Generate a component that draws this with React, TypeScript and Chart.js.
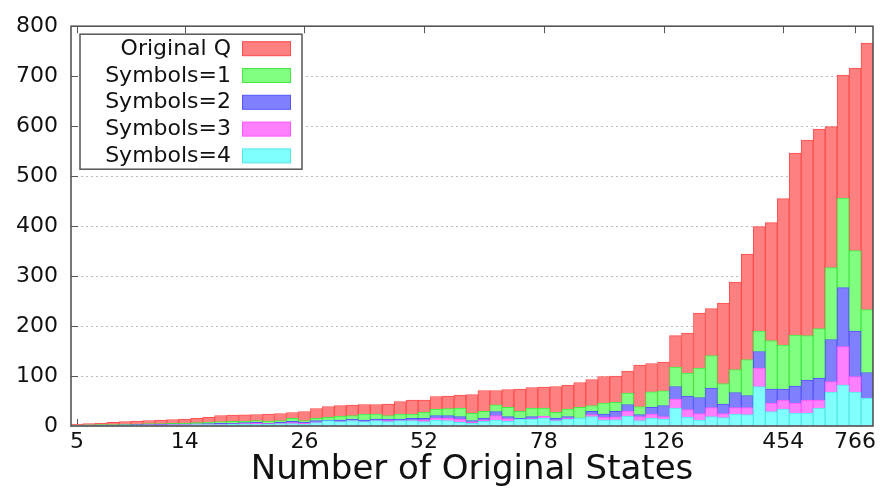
import React, { useEffect, useRef } from 'react';
import { Chart, registerables } from 'chart.js';

Chart.register(...registerables);

// ---- data ----
const tickLabels: string[] = ['5', '14', '26', '52', '78', '126', '454', '766'];
const tickIndices: number[] = [0, 9, 19, 29, 39, 49, 59, 65];

const originalQ: number[] = [
  4, 5, 6, 7.5, 9, 10, 11, 12, 13, 14,
  15.5, 17.5, 21, 22, 22.5, 23, 24, 25, 27, 29,
  35, 39, 41, 42, 43, 43, 44, 49, 52, 52,
  59, 60, 62, 63, 71, 71, 73, 74, 77, 78,
  79, 82, 87, 93, 99, 100, 110, 122, 125, 128,
  181, 186, 226, 235, 246, 288, 344, 399, 407, 455,
  546, 572, 594, 599, 702, 716, 766,
];
const symbols1: number[] = [
  2, 2.5, 3, 3, 4, 4, 5, 5, 5.5, 6,
  7, 8, 9, 9.5, 10, 11, 10, 11, 15.5, 11,
  15.5, 17.5, 20, 21, 24, 24, 21, 24, 24, 27.5,
  34, 35, 36, 25.5, 29.5, 42.5, 37.5, 29.5, 36, 36,
  27.5, 34, 37.5, 41, 46, 47.5, 66, 39, 68.5, 70.5,
  118, 106, 116, 141, 85, 113, 133, 190, 171, 162,
  182, 181, 195, 317, 456, 351, 233,
];
const symbols2: number[] = [
  1.5, 2, 2, 2, 2.5, 3, 3, 3.5, 4, 4,
  4.5, 5, 5.5, 6, 7, 7.5, 6, 7.5, 9.5, 7.5,
  11, 12, 12, 14, 12, 14, 14, 14, 15.5, 15.5,
  21, 21, 19, 11, 16, 29, 19, 16, 19, 19,
  16, 19, 16, 29.5, 24, 29.5, 43, 23, 37.5, 41,
  79, 60, 57, 76, 44, 67, 61, 149, 74, 74,
  80, 92, 96, 173, 277, 190, 107,
];
const symbols3: number[] = [
  1, 1.5, 1.5, 1.5, 2, 2, 2.5, 2.5, 3, 3,
  3.5, 4, 4, 4.5, 5, 6, 5, 6, 7, 6,
  8, 9, 9, 11, 9, 11, 11, 11, 12, 12,
  16, 16, 13.5, 8, 12, 21, 15, 13.5, 15, 20,
  12, 16, 15, 23, 17.5, 18.5, 30, 19, 24, 19,
  54, 33, 25, 37, 25, 37, 37, 116, 46, 52,
  46, 52, 52, 89, 159, 99, 56,
];
const symbols4: number[] = [
  0.5, 1, 1, 1, 1.5, 1.5, 2, 2, 2.5, 2.5,
  3, 3, 3, 3.5, 4, 4, 4, 5, 5, 4,
  7, 11, 9, 11, 9, 11, 9, 11, 11, 9,
  12, 11, 7.5, 5.5, 9.5, 12, 9.5, 14, 14, 16,
  11, 14, 16, 19, 12, 12.5, 20, 11, 16, 14,
  36, 18, 12, 19, 17, 24, 23, 79, 29, 34,
  26, 26, 36, 68, 82, 68, 56,
];

const seriesLabels: string[] = ['Original Q', 'Symbols=1', 'Symbols=2', 'Symbols=3', 'Symbols=4'];
const seriesValues: number[][] = [originalQ, symbols1, symbols2, symbols3, symbols4];
const fillColors: string[] = ['#ff8080', '#80ff80', '#8080ff', '#ff80ff', '#80ffff'];
const borderColors: string[] = ['#ff4d4d', '#45e845', '#5555ff', '#ff55ff', '#55e6e6'];

const categories: string[] = originalQ.map((_, i) => {
  const k = tickIndices.indexOf(i);
  return k >= 0 ? tickLabels[k] : '';
});

const FRAME = '#555555';
const FONT = '"DejaVu Sans", "Liberation Sans", sans-serif';

const gnuplotFrame = {
  id: 'gnuplotFrame',
  beforeDatasetsDraw(chart: any) {
    const { ctx, chartArea } = chart;
    const { left, right, top, bottom } = chartArea;
    const x = chart.scales.x;
    const y = chart.scales.y;
    ctx.save();
    ctx.strokeStyle = FRAME;
    ctx.lineWidth = 1;
    ctx.beginPath();
    for (let v = 100; v < 800; v += 100) {
      const py = Math.round(y.getPixelForValue(v)) + 0.5;
      ctx.moveTo(left, py);
      ctx.lineTo(left + 7, py);
      ctx.moveTo(right, py);
      ctx.lineTo(right - 7, py);
    }
    tickIndices.forEach((idx) => {
      const px = Math.round(x.getPixelForValue(idx)) + 0.5;
      ctx.moveTo(px, bottom);
      ctx.lineTo(px, bottom - 7);
      ctx.moveTo(px, top);
      ctx.lineTo(px, top + 7);
    });
    ctx.stroke();
    ctx.restore();
  },
  afterDatasetsDraw(chart: any) {
    const { ctx, chartArea } = chart;
    const { left, right, top, bottom } = chartArea;
    ctx.save();
    // legend box
    const bx = left + 9;
    const by = top + 8;
    const bw = 222;
    const bh = 135;
    ctx.fillStyle = '#ffffff';
    ctx.fillRect(bx, by, bw, bh);
    ctx.strokeStyle = FRAME;
    ctx.lineWidth = 1.5;
    ctx.strokeRect(bx, by, bw, bh);
    ctx.font = `22px ${FONT}`;
    ctx.textAlign = 'right';
    ctx.textBaseline = 'alphabetic';
    seriesLabels.forEach((lab, i) => {
      ctx.fillStyle = '#111111';
      ctx.fillText(lab, bx + 151, by + 20.5 + 26.8 * i);
      const sy = by + 7.5 + 26.8 * i;
      ctx.fillStyle = fillColors[i];
      ctx.fillRect(bx + 162.5, sy, 48, 14);
      ctx.strokeStyle = borderColors[i];
      ctx.lineWidth = 1;
      ctx.strokeRect(bx + 162.5, sy, 48, 14);
    });
    // border
    ctx.strokeStyle = FRAME;
    ctx.lineWidth = 1.6;
    ctx.strokeRect(left, top, right - left, bottom - top);
    ctx.restore();
  },
};

export default function App() {
  const ref = useRef<HTMLCanvasElement | null>(null);

  useEffect(() => {
    if (!ref.current) return;
    Chart.defaults.font.family = FONT;
    const chart = new Chart(ref.current, {
      type: 'bar',
      data: {
        labels: categories,
        datasets: seriesLabels.map((label, i) => ({
          label,
          data: seriesValues[i],
          backgroundColor: fillColors[i],
          borderColor: borderColors[i],
          borderWidth: 1,
          grouped: false,
          barPercentage: 1,
          categoryPercentage: 1,
          order: seriesLabels.length - i,
        })),
      },
      options: {
        responsive: true,
        maintainAspectRatio: false,
        animation: false,
        layout: { padding: { top: 23, right: 8, left: 0, bottom: 0 } },
        plugins: {
          legend: { display: false },
          tooltip: { enabled: false },
        },
        scales: {
          x: {
            type: 'category',
            offset: true,
            grid: { display: false, drawTicks: false },
            border: { display: false },
            ticks: {
              autoSkip: false,
              maxRotation: 0,
              minRotation: 0,
              padding: 3,
              color: '#111111',
              font: { size: 22, family: FONT },
              callback: (_v: any, i: number) => categories[i],
            },
            title: {
              display: true,
              text: 'Number of Original States',
              color: '#111111',
              font: { size: 34, family: FONT },
              padding: { top: 0, bottom: 1 },
            },
            afterFit: (s: any) => {
              s.height = 66;
            },
          },
          y: {
            min: 0,
            max: 800,
            ticks: {
              stepSize: 100,
              padding: 13,
              color: '#111111',
              font: { size: 22, family: FONT },
            },
            grid: { color: '#bdbdbd', lineWidth: 1, drawTicks: false },
            border: { display: false, dash: [2, 3] },
            afterFit: (s: any) => {
              s.width = 71;
            },
          },
        },
      },
      plugins: [gnuplotFrame],
    } as any);
    return () => chart.destroy();
  }, []);

  return (
    <div style={{ position: 'fixed', left: 0, top: 0, width: 881, height: 492, background: '#fff' }}>
      <canvas ref={ref} style={{ display: 'block' }} />
    </div>
  );
}
